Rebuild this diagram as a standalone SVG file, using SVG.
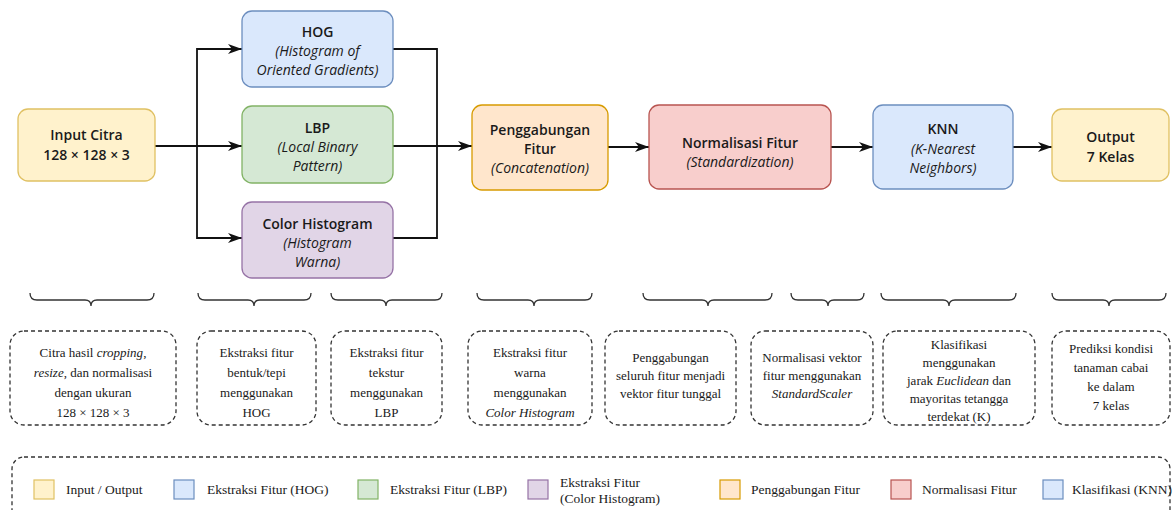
<svg xmlns="http://www.w3.org/2000/svg" width="1174" height="510" viewBox="0 0 1174 510">
<style>
.node rect{stroke-width:1.3}
.t{font-family:"Open Sans","Liberation Sans",sans-serif;font-size:14px;font-weight:600;fill:#1a1a1a;text-anchor:middle}
.i{font-family:"Open Sans","Liberation Sans",sans-serif;font-size:14px;font-style:italic;fill:#1a1a1a;text-anchor:middle}
.yel{fill:#fff2cc;stroke:#e0c163}
.blu{fill:#dae8fc;stroke:#6c8ebf}
.grn{fill:#d5e8d4;stroke:#82b366}
.pur{fill:#e1d5e7;stroke:#9673a6}
.org{fill:#ffe6cc;stroke:#d79b00}
.red{fill:#f8cecc;stroke:#b85450}
.conn path{fill:none;stroke:#111;stroke-width:1.8}
.brace path{fill:none;stroke:#333;stroke-width:1.3}
.dbox{fill:none;stroke:#333;stroke-width:1.3;stroke-dasharray:4 3}
.s{font-family:"Liberation Serif","Times New Roman",serif;font-size:13px;fill:#1a1a1a;text-anchor:middle}
.lg{font-family:"Liberation Serif","Times New Roman",serif;font-size:13.5px;fill:#1a1a1a}
.sw{stroke-width:1.2}
</style>
<defs>
<marker id="arr" markerUnits="userSpaceOnUse" markerWidth="14" markerHeight="10" refX="14" refY="5" orient="auto">
<path d="M0,0 L14,5 L0,10 L4,5 Z" fill="#111"/>
</marker>
</defs>
<rect width="1174" height="510" fill="#ffffff"/>

<g class="conn">
<path d="M155,146 L242,146" marker-end="url(#arr)"/>
<path d="M197,146 L197,49 L242,49" marker-end="url(#arr)"/>
<path d="M197,146 L197,238 L242,238" marker-end="url(#arr)"/>
<path d="M393,49 L437,49 L437,238 L393,238"/>
<path d="M393,146 L472,146" marker-end="url(#arr)"/>
<path d="M608,147 L649,147" marker-end="url(#arr)"/>
<path d="M831,147 L873,147" marker-end="url(#arr)"/>
<path d="M1013,147 L1052,147" marker-end="url(#arr)"/>
</g>

<g id="input" class="node">
<rect x="18" y="109" width="137" height="72" rx="10" class="yel"/>
<text class="t" x="86.5" y="140">Input Citra</text>
<text class="t" x="86.5" y="160">128 × 128 × 3</text>
</g>
<g id="hog" class="node">
<rect x="242" y="11" width="151" height="76" rx="10" class="blu"/>
<text class="t" x="317.5" y="37">HOG</text>
<text class="i" x="317.5" y="56">(Histogram of</text>
<text class="i" x="317.5" y="75">Oriented Gradients)</text>
</g>
<g id="lbp" class="node">
<rect x="242" y="106" width="151" height="77" rx="10" class="grn"/>
<text class="t" x="317.5" y="133">LBP</text>
<text class="i" x="317.5" y="152">(Local Binary</text>
<text class="i" x="317.5" y="171">Pattern)</text>
</g>
<g id="colorhist" class="node">
<rect x="242" y="202" width="151" height="76" rx="10" class="pur"/>
<text class="t" x="317.5" y="229">Color Histogram</text>
<text class="i" x="317.5" y="248">(Histogram</text>
<text class="i" x="317.5" y="267">Warna)</text>
</g>
<g id="concat" class="node">
<rect x="472" y="105" width="136" height="85" rx="10" class="org"/>
<text class="t" x="540" y="135">Penggabungan</text>
<text class="t" x="540" y="154">Fitur</text>
<text class="i" x="540" y="173">(Concatenation)</text>
</g>
<g id="norm" class="node">
<rect x="649" y="105" width="182" height="84" rx="10" class="red"/>
<text class="t" x="740" y="148">Normalisasi Fitur</text>
<text class="i" x="740" y="167">(Standardization)</text>
</g>
<g id="knn" class="node">
<rect x="873" y="105" width="140" height="84" rx="10" class="blu"/>
<text class="t" x="943" y="134">KNN</text>
<text class="i" x="943" y="154">(K-Nearest</text>
<text class="i" x="943" y="173">Neighbors)</text>
</g>
<g id="output" class="node">
<rect x="1052" y="109" width="117" height="72" rx="10" class="yel"/>
<text class="t" x="1110.5" y="142">Output</text>
<text class="t" x="1110.5" y="162">7 Kelas</text>
</g>

<g class="brace">
<path d="M30,293 Q30,300 37,300 L85,300 Q91,300 91,306 Q91,300 97,300 L147,300 Q154,300 154,293"/>
<path d="M198,293 Q198,300 205,300 L248,300 Q254,300 254,306 Q254,300 260,300 L304,300 Q311,300 311,293"/>
<path d="M331,293 Q331,300 338,300 L380,300 Q386,300 386,306 Q386,300 392,300 L435,300 Q442,300 442,293"/>
<path d="M477,293 Q477,300 484,300 L528,300 Q534,300 534,306 Q534,300 540,300 L585,300 Q592,300 592,293"/>
<path d="M643,293 Q643,300 650,300 L702,300 Q708,300 708,306 Q708,300 714,300 L765,300 Q772,300 772,293"/>
<path d="M791,293 Q791,300 798,300 L822,300 Q828,300 828,306 Q828,300 834,300 L857,300 Q864,300 864,293"/>
<path d="M881,293 Q881,300 888,300 L943,300 Q949,300 949,306 Q949,300 955,300 L1009,300 Q1016,300 1016,293"/>
<path d="M1052,293 Q1052,300 1059,300 L1103,300 Q1109,300 1109,306 Q1109,300 1115,300 L1159,300 Q1166,300 1166,293"/>
</g>

<g id="desc1">
<rect class="dbox" x="10" y="331" width="166" height="94" rx="14"/>
<text class="s" x="93" y="357">Citra hasil <tspan font-style="italic">cropping</tspan>,</text>
<text class="s" x="93" y="377"><tspan font-style="italic">resize</tspan>, dan normalisasi</text>
<text class="s" x="93" y="397">dengan ukuran</text>
<text class="s" x="93" y="417">128 × 128 × 3</text>
</g>
<g id="desc2">
<rect class="dbox" x="197" y="331" width="119" height="94" rx="14"/>
<text class="s" x="256.5" y="357">Ekstraksi fitur</text>
<text class="s" x="256.5" y="377">bentuk/tepi</text>
<text class="s" x="256.5" y="397">menggunakan</text>
<text class="s" x="256.5" y="417">HOG</text>
</g>
<g id="desc3">
<rect class="dbox" x="331" y="331" width="111" height="94" rx="14"/>
<text class="s" x="386.5" y="357">Ekstraksi fitur</text>
<text class="s" x="386.5" y="377">tekstur</text>
<text class="s" x="386.5" y="397">menggunakan</text>
<text class="s" x="386.5" y="417">LBP</text>
</g>
<g id="desc4">
<rect class="dbox" x="468" y="331" width="124" height="94" rx="14"/>
<text class="s" x="530" y="357">Ekstraksi fitur</text>
<text class="s" x="530" y="377">warna</text>
<text class="s" x="530" y="397">menggunakan</text>
<text class="s" x="530" y="417" font-style="italic">Color Histogram</text>
</g>
<g id="desc5">
<rect class="dbox" x="605" y="331" width="131" height="94" rx="14"/>
<text class="s" x="670.5" y="362">Penggabungan</text>
<text class="s" x="670.5" y="380">seluruh fitur menjadi</text>
<text class="s" x="670.5" y="398">vektor fitur tunggal</text>
</g>
<g id="desc6">
<rect class="dbox" x="751" y="331" width="122" height="94" rx="14"/>
<text class="s" x="812" y="362">Normalisasi vektor</text>
<text class="s" x="812" y="380">fitur menggunakan</text>
<text class="s" x="812" y="398" font-style="italic">StandardScaler</text>
</g>
<g id="desc7">
<rect class="dbox" x="883" y="331" width="152" height="94" rx="14"/>
<text class="s" x="959" y="349">Klasifikasi</text>
<text class="s" x="959" y="367">menggunakan</text>
<text class="s" x="959" y="385">jarak <tspan font-style="italic">Euclidean</tspan> dan</text>
<text class="s" x="959" y="403">mayoritas tetangga</text>
<text class="s" x="959" y="421">terdekat (K)</text>
</g>
<g id="desc8">
<rect class="dbox" x="1052" y="331" width="118" height="94" rx="14"/>
<text class="s" x="1111" y="353">Prediksi kondisi</text>
<text class="s" x="1111" y="372">tanaman cabai</text>
<text class="s" x="1111" y="391">ke dalam</text>
<text class="s" x="1111" y="410">7 kelas</text>
</g>

<g id="legend">
<rect class="dbox" x="12" y="457" width="1158" height="70" rx="12"/>
<rect class="sw yel" x="34" y="480" width="20" height="19"/>
<text class="lg" x="66" y="494">Input / Output</text>
<rect class="sw blu" x="174" y="480" width="20" height="19"/>
<text class="lg" x="207" y="494">Ekstraksi Fitur (HOG)</text>
<rect class="sw grn" x="358" y="480" width="20" height="19"/>
<text class="lg" x="390" y="494">Ekstraksi Fitur (LBP)</text>
<rect class="sw pur" x="528" y="480" width="20" height="19"/>
<text class="lg" x="560" y="487">Ekstraksi Fitur</text>
<text class="lg" x="560" y="503">(Color Histogram)</text>
<rect class="sw org" x="720" y="480" width="20" height="19"/>
<text class="lg" x="751" y="494">Penggabungan Fitur</text>
<rect class="sw red" x="891" y="480" width="20" height="19"/>
<text class="lg" x="922" y="494">Normalisasi Fitur</text>
<rect class="sw blu" x="1043" y="480" width="20" height="19"/>
<text class="lg" x="1072" y="494">Klasifikasi (KNN)</text>
</g>
</svg>
